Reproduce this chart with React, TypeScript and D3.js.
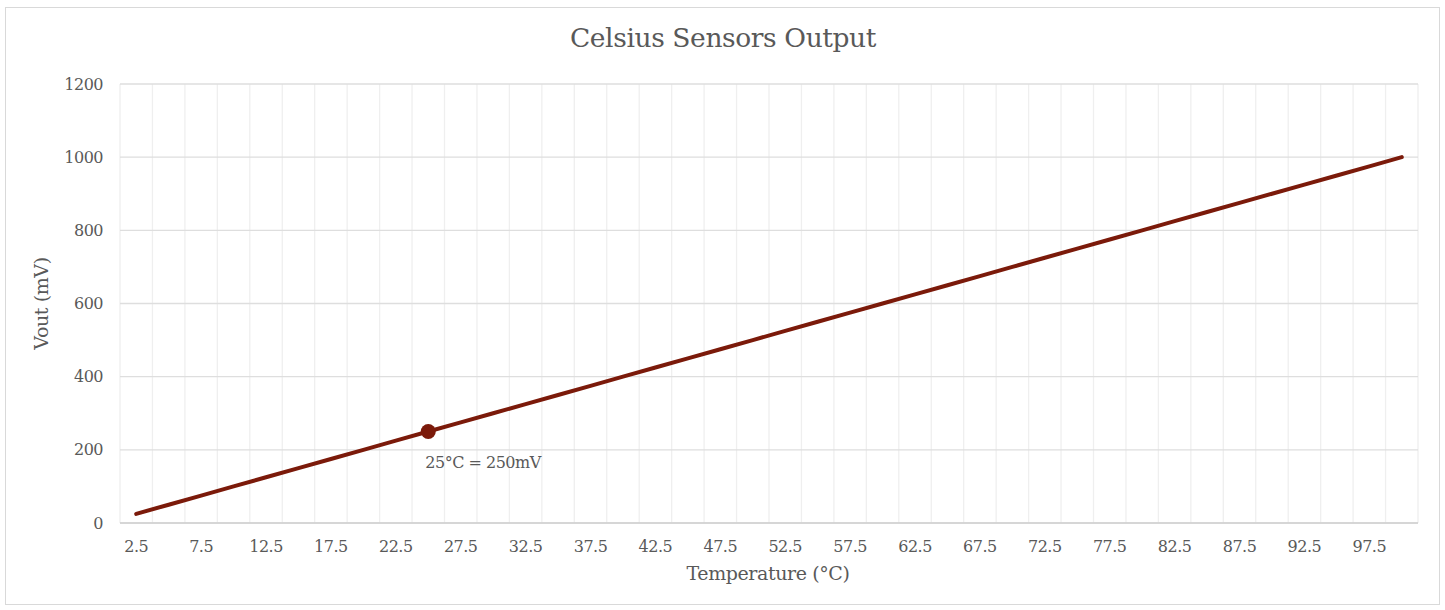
import React from "react";
import * as d3 from "d3";

const temps: number[] = [
  2.5, 5, 7.5, 10, 12.5, 15, 17.5, 20, 22.5, 25, 27.5, 30, 32.5, 35, 37.5, 40,
  42.5, 45, 47.5, 50, 52.5, 55, 57.5, 60, 62.5, 65, 67.5, 70, 72.5, 75, 77.5,
  80, 82.5, 85, 87.5, 90, 92.5, 95, 97.5, 100,
];
const vout: number[] = [
  25, 50, 75, 100, 125, 150, 175, 200, 225, 250, 275, 300, 325, 350, 375, 400,
  425, 450, 475, 500, 525, 550, 575, 600, 625, 650, 675, 700, 725, 750, 775,
  800, 825, 850, 875, 900, 925, 950, 975, 1000,
];
const yTicks: number[] = [0, 200, 400, 600, 800, 1000, 1200];
const marked = { temp: 25, value: 250, label: "25°C = 250mV" };

const W = 1445;
const H = 610;
const font = "'DejaVu Serif', 'Liberation Serif', serif";

const App: React.FC = () => {
  const left = 120;
  const right = 1418;
  const top = 84;
  const bottom = 523;

  const x = d3
    .scaleBand<string>()
    .domain(temps.map(String))
    .range([left, right]);
  const cx = (t: number) => x(String(t))! + x.bandwidth() / 2;
  const y = d3.scaleLinear().domain([0, 1200]).range([bottom, top]);

  const line = d3
    .line<number>()
    .x((_, i) => cx(temps[i]))
    .y((d) => y(d));

  const bounds = temps.map((t) => x(String(t))!).concat([right]);

  return (
    <svg
      width={W}
      height={H}
      style={{ position: "absolute", left: 0, top: 0, fontFamily: font }}
    >
      <rect x={5.5} y={7.5} width={1434} height={597} fill="#fff" stroke="#d9d9d9" />
      <text x={723} y={47} textAnchor="middle" fontSize={26.5} fill="#595959" letterSpacing={-0.4}>
        Celsius Sensors Output
      </text>

      {/* vertical gridlines at category borders */}
      {bounds.map((b, i) => (
        <line key={"v" + i} x1={b} x2={b} y1={top} y2={bottom} stroke="#efefef" strokeWidth={1.3} />
      ))}
      {yTicks.map((t) => (
        <line key={"h" + t} x1={left} x2={right} y1={y(t)} y2={y(t)} stroke="#dedede" strokeWidth={1.3} />
      ))}
      <line x1={left} x2={right} y1={bottom} y2={bottom} stroke="#d0d0d0" strokeWidth={1.5} />

      {yTicks.map((t) => (
        <text key={"yl" + t} x={103} y={y(t) + 5.5} textAnchor="end" fontSize={16} fill="#595959" letterSpacing={-0.5}>
          {t}
        </text>
      ))}
      {temps.map((t, i) =>
        i % 2 === 0 ? (
          <text key={"xl" + t} x={cx(t)} y={552} textAnchor="middle" fontSize={16} fill="#595959" letterSpacing={-0.5}>
            {t}
          </text>
        ) : null
      )}

      <text x={768} y={580} textAnchor="middle" fontSize={19} fill="#595959" letterSpacing={-0.4}>
        Temperature (°C)
      </text>
      <text
        transform={`translate(48,${(top + bottom) / 2}) rotate(-90)`}
        textAnchor="middle"
        fontSize={19}
        fill="#595959"
        letterSpacing={-0.4}
      >
        Vout (mV)
      </text>

      <path
        d={line(vout) ?? ""}
        fill="none"
        stroke="#7b1a0a"
        strokeWidth={4}
        strokeLinecap="round"
      />
      <circle cx={cx(marked.temp)} cy={y(marked.value)} r={7.5} fill="#7b1a0a" />
      <text x={cx(marked.temp) - 3} y={y(marked.value) + 36} fontSize={16} fill="#595959" letterSpacing={-0.5}>
        {marked.label}
      </text>
    </svg>
  );
};

export default App;
